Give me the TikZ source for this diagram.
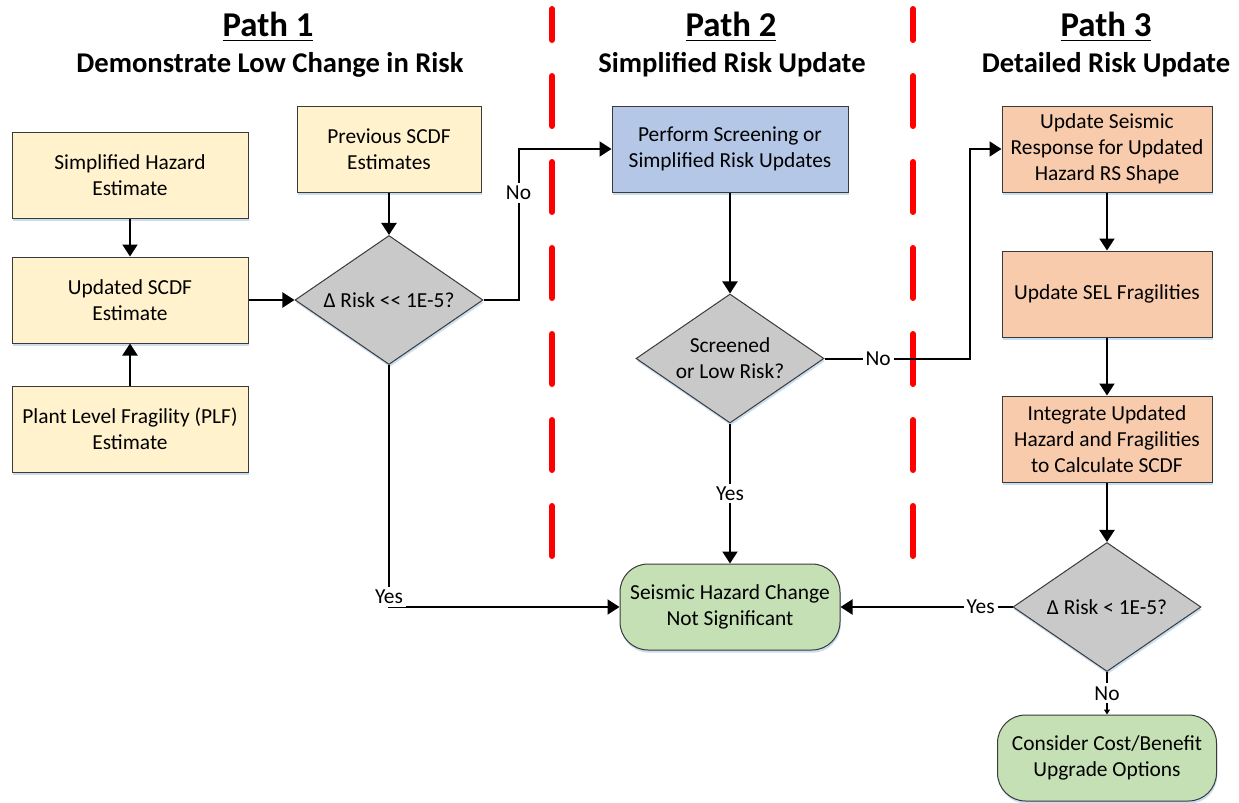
\documentclass[tikz,border=0pt]{standalone}
\usepackage{fontspec}
\setmainfont{Carlito}
\usetikzlibrary{shapes.geometric,arrows.meta,shadows,positioning}

\definecolor{boxyellow}{HTML}{FFF2CC}
\definecolor{boxblue}{HTML}{B4C7E7}
\definecolor{boxorange}{HTML}{F8CBAD}
\definecolor{boxgreen}{HTML}{C5E0B4}
\definecolor{boxgray}{HTML}{C9C9C9}
\definecolor{edgegray}{HTML}{3A3A3A}
\definecolor{glowblue}{HTML}{9DC3E6}

\tikzset{
  txt/.style={font=\fontsize{10.7}{13}\selectfont},
  base/.style={txt, draw=edgegray, line width=0.5pt, align=center, inner sep=2pt,
    drop shadow={shadow xshift=0.4pt, shadow yshift=-1.3pt, fill=glowblue, opacity=0.55}},
  task/.style={base, rectangle, minimum width=118pt, minimum height=43pt},
  decide/.style={base, diamond, aspect=1.46, fill=boxgray, minimum width=94pt, minimum height=64.5pt, inner sep=0pt},
  finish/.style={base, rectangle, rounded corners=14pt, fill=boxgreen, minimum width=110pt, minimum height=43pt},
  arr/.style={line width=1pt, -{Triangle[length=6pt,width=7.5pt]}},
  lbl/.style={txt, fill=white, inner sep=1.5pt},
  divider/.style={red, line width=3pt, line cap=round, dash pattern=on 25pt off 18pt, dash phase=9.5pt},
  pathhead/.style={font=\fontsize{17.4}{20}\bfseries\selectfont, anchor=base},
  pathsub/.style={font=\fontsize{14.3}{17}\bfseries\selectfont, anchor=base}
}

\begin{document}
\begin{tikzpicture}[x=0.5pt,y=-0.5pt]
\useasboundingbox (0,0) rectangle (1239,803);

% path headings
\node[pathhead] (h1) at (268,37) {\underline{Path 1}};
\node[pathsub] (s1) at (270,72) {Demonstrate Low Change in Risk};
\node[pathhead] (h2) at (731,37) {\underline{Path 2}};
\node[pathsub] (s2) at (732,72) {Simplified Risk Update};
\node[pathhead] (h3) at (1106,37) {\underline{Path 3}};
\node[pathsub] (s3) at (1106,72) {Detailed Risk Update};

% dividers between paths
\draw[divider] (552,9) -- (552,558);
\draw[divider] (913,9) -- (913,558);

% path 1
\node[task, fill=boxyellow] (simp) at (130,175.5) {Simplified Hazard\\Estimate};
\node[task, fill=boxyellow] (scdf) at (130,300) {Updated SCDF\\Estimate};
\node[task, fill=boxyellow] (plf) at (130,429) {Plant Level Fragility (PLF)\\Estimate};
\node[task, fill=boxyellow, minimum width=92pt] (prev) at (389,149) {Previous SCDF\\Estimates};
\node[decide] (dr1) at (389,300) {Δ Risk <\kern0pt< 1E-5?};

% path 2
\node[task, fill=boxblue] (perf) at (730,149) {Perform Screening or\\Simplified Risk Updates};
\node[decide] (dr2) at (730,358.5) {Screened\\or Low Risk?};
\node[finish] (sig) at (730,607) {Seismic Hazard Change\\Not Significant};

% path 3
\node[task, fill=boxorange, minimum width=105pt] (upd) at (1107,149) {Update Seismic\\Response for Updated\\Hazard RS Shape};
\node[task, fill=boxorange, minimum width=105pt] (sel) at (1107,294) {Update SEL Fragilities};
\node[task, fill=boxorange, minimum width=105pt] (integ) at (1107,439) {Integrate Updated\\Hazard and Fragilities\\to Calculate SCDF};
\node[decide] (dr3) at (1107,607) {Δ Risk < 1E-5?};
\node[finish, minimum width=109.5pt] (cons) at (1107,758) {Consider Cost/Benefit\\Upgrade Options};

% connectors
\draw[arr] (simp) -- (scdf);
\draw[arr] (plf) -- (scdf);
\draw[arr] (scdf) -- (dr1);
\draw[arr] (prev) -- (dr1);
\draw[arr] (dr1.east) -- ++(35,0) |- node[lbl,pos=.355] {No} (perf.west);
\draw[arr] (dr1.south) |- node[lbl,pos=.5,yshift=5pt] {Yes} (sig.west);
\draw[arr] (perf) -- (dr2);
\draw[arr] (dr2.south) -- node[lbl] {Yes} (sig.north);
\draw[arr] (dr2.east) -- node[lbl,pos=.37] {No} ++(145,0) |- (upd.west);
\draw[arr] (upd) -- (sel);
\draw[arr] (sel) -- (integ);
\draw[arr] (integ) -- (dr3);
\draw[arr] (dr3.west) -- node[lbl,pos=.185] {Yes} (sig.east);
\draw[line width=1pt, -{Triangle[length=2.5pt,width=3pt]}] (dr3.south) -- node[lbl] {No} (cons.north);
\end{tikzpicture}
\end{document}
